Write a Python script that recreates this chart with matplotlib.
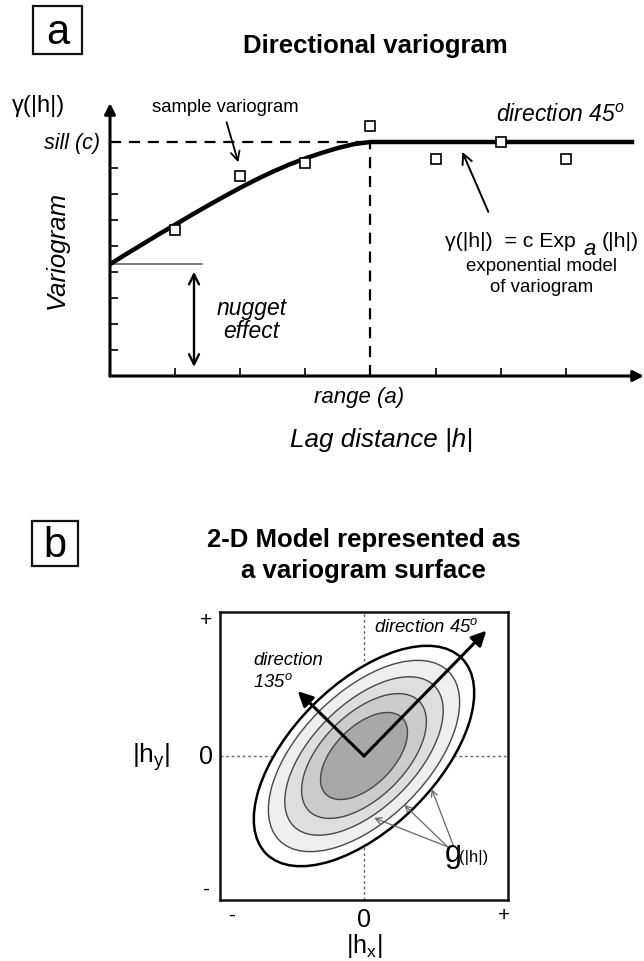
import matplotlib
matplotlib.use('Agg')
import matplotlib.pyplot as plt
from matplotlib.patches import Ellipse, Rectangle

plt.rcParams['font.family'] = ['Liberation Sans', 'DejaVu Sans']
plt.rcParams['mathtext.fontset'] = 'custom'
plt.rcParams['mathtext.rm'] = 'Liberation Sans'
plt.rcParams['mathtext.it'] = 'Liberation Sans:italic'

# panel a: directional variogram (lag and gamma in tick units)
lags = [1, 2, 3, 4, 5, 6, 7]
sample_gamma = [5.6, 7.7, 8.2, 9.6, 8.35, 9.0, 8.35]
model_h = [0, 0.25, 0.5, 0.75, 1, 1.25, 1.5, 1.75, 2, 2.25, 2.5, 2.75,
           3, 3.25, 3.5, 3.75, 4, 8.05]
model_gamma = [4.30, 4.69, 5.07, 5.45, 5.82, 6.19, 6.55, 6.90, 7.24, 7.56,
               7.86, 8.13, 8.37, 8.58, 8.77, 8.92, 9.0, 9.0]
y_ticks = [1, 2, 3, 4, 5, 6, 7, 8]
sill = 9.0
nugget = 4.3
range_a = 4.0

# panel b: variogram surface, nested ellipses at 45 degrees
semi_major = [0.96, 0.83, 0.69, 0.54, 0.375]
semi_minor = [0.50, 0.44, 0.36, 0.29, 0.205]
shades = ['white', '#efefef', '#dedede', '#cbcbcb', '#a8a8a8']
edge_cols = ['black', '#474747', '#474747', '#474747', '#474747']
edge_widths = [1.8, 1.0, 1.0, 1.0, 1.0]

W, H = 644, 962
fig = plt.figure(figsize=(W / 100, H / 100), dpi=100)


def fx(x):
    return x / W


def fy(y):
    return 1 - y / H


def label_box(letter, x0, y0, w, h):
    fig.add_artist(Rectangle((fx(x0), fy(y0 + h)), w / W, h / H,
                             transform=fig.transFigure, fill=False, lw=1.6, ec='#111111'))
    fig.text(fx(x0 + w / 2), fy(y0 + h / 2 + 2), letter, fontsize=30,
             ha='center', va='center')


# ---- panel a ----
label_box('a', 33, 7, 49, 48)
fig.text(fx(375), fy(46), 'Directional variogram', fontsize=18.5,
         fontweight='bold', ha='center', va='center')

ax1 = fig.add_axes([fx(110), fy(377), 534 / W, 275.6 / H])
ax1.set_xlim(0, 8.2)
ax1.set_ylim(0, 10.6)
for s in ax1.spines.values():
    s.set_visible(False)
ax1.set_xticks(lags)
ax1.set_yticks(y_ticks)
ax1.tick_params(direction='in', length=6, width=1.2, labelbottom=False, labelleft=False)

axis_arrow = dict(arrowstyle='-|>', lw=2.2, color='k', mutation_scale=16,
                  shrinkA=0, shrinkB=0)
ax1.annotate('', xy=(8.2, 0), xytext=(0, 0), arrowprops=axis_arrow,
             annotation_clip=False)
ax1.annotate('', xy=(0, 10.5), xytext=(0, 0), arrowprops=axis_arrow,
             annotation_clip=False)

ax1.plot([0, range_a], [sill, sill], color='k', lw=1.6, dashes=(5, 3.5))
ax1.plot([range_a, range_a], [0, sill], color='k', lw=1.6, dashes=(5, 3.5))
ax1.plot([0, 1.42], [nugget, nugget], color='#555555', lw=1.1)
ax1.plot(model_h, model_gamma, color='k', lw=3.2, solid_capstyle='butt', zorder=3)
ax1.plot(lags, sample_gamma, 's', ms=7.5, mfc='white', mec='k', mew=1.2,
         zorder=4, clip_on=False)

ax1.annotate('', xy=(1.29, 0.35), xytext=(1.29, 4.01),
             arrowprops=dict(arrowstyle='<->', lw=1.7, color='k',
                             mutation_scale=18, shrinkA=0, shrinkB=0))
ax1.annotate('', xy=(1.97, 8.22), xytext=(1.79, 9.76),
             arrowprops=dict(arrowstyle='->', lw=1.3, color='k',
                             mutation_scale=16, shrinkA=0, shrinkB=0))
ax1.annotate('', xy=(5.41, 8.62), xytext=(5.81, 6.31),
             arrowprops=dict(arrowstyle='->', lw=1.4, color='k',
                             mutation_scale=18, shrinkA=0, shrinkB=0))

fig.text(fx(39), fy(106), 'γ(|h|)', fontsize=17, ha='center', va='center')
fig.text(fx(100), fy(144), 'sill (c)', fontsize=15.5, style='italic',
         ha='right', va='center')
fig.text(fx(57), fy(250), 'Variogram', fontsize=18.5, style='italic',
         rotation=90, ha='center', va='center')
fig.text(fx(225), fy(108), 'sample variogram', fontsize=13.3,
         ha='center', va='center')
fig.text(fx(560), fy(116), 'direction 45$^o$', fontsize=16.5, style='italic',
         ha='center', va='center')
fig.text(fx(445), fy(242), 'γ(|h|)  = c Exp', fontsize=15.3,
         ha='left', va='center')
fig.text(fx(584), fy(250), 'a', fontsize=16, style='italic',
         ha='left', va='center')
fig.text(fx(602), fy(242), '(|h|)', fontsize=15.3, ha='left', va='center')
fig.text(fx(542), fy(267), 'exponential model', fontsize=13.4,
         ha='center', va='center')
fig.text(fx(542), fy(288), 'of variogram', fontsize=13.4,
         ha='center', va='center')
fig.text(fx(252), fy(308), 'nugget', fontsize=16.5, style='italic',
         ha='center', va='center')
fig.text(fx(251), fy(332), 'effect', fontsize=16.5, style='italic',
         ha='center', va='center')
fig.text(fx(359), fy(397), 'range (a)', fontsize=16, style='italic',
         ha='center', va='center')
fig.text(fx(382), fy(440), 'Lag distance |h|', fontsize=18.7, style='italic',
         ha='center', va='center')

# ---- panel b ----
label_box('b', 32, 522, 46, 45)
fig.text(fx(363.5), fy(540), '2-D Model represented as', fontsize=18.5,
         fontweight='bold', ha='center', va='center')
fig.text(fx(363.5), fy(571), 'a variogram surface', fontsize=18.5,
         fontweight='bold', ha='center', va='center')

ax2 = fig.add_axes([fx(220), fy(901), 288 / W, 288 / H])
ax2.set_xlim(-1, 1)
ax2.set_ylim(-1, 1)
ax2.set_xticks([])
ax2.set_yticks([])
for s in ax2.spines.values():
    s.set_linewidth(1.8)
    s.set_color('#111111')

ax2.axhline(0, color='#666666', lw=1, dashes=(2, 2), zorder=0.5)
ax2.axvline(0, color='#666666', lw=1, dashes=(2, 2), zorder=0.5)

for i in range(len(semi_major)):
    ax2.add_patch(Ellipse((0, 0), 2 * semi_major[i], 2 * semi_minor[i], angle=45,
                          fc=shades[i], ec=edge_cols[i], lw=edge_widths[i],
                          zorder=1 + i))

dir_arrow = dict(arrowstyle='-|>', lw=2.2, color='k', mutation_scale=22,
                 shrinkA=0, shrinkB=0)
ax2.annotate('', xy=(0.85, 0.87), xytext=(0, 0), arrowprops=dir_arrow, zorder=10)
ax2.annotate('', xy=(-0.46, 0.45), xytext=(0, 0), arrowprops=dir_arrow, zorder=10)

gray_arrow = dict(arrowstyle='->', lw=0.9, color='#666666', mutation_scale=11,
                  shrinkA=0, shrinkB=0)
ax2.annotate('', xy=(0.07, -0.43), xytext=(0.58, -0.63), arrowprops=gray_arrow, zorder=10)
ax2.annotate('', xy=(0.28, -0.34), xytext=(0.58, -0.63), arrowprops=gray_arrow, zorder=10)
ax2.annotate('', xy=(0.47, -0.23), xytext=(0.62, -0.62), arrowprops=gray_arrow, zorder=10)

ax2.text(0.07, 0.90, 'direction 45$^o$', fontsize=13.3, style='italic',
         ha='left', va='center', zorder=11)
ax2.text(-0.77, 0.67, 'direction', fontsize=13.3, style='italic',
         ha='left', va='center', zorder=11)
ax2.text(-0.77, 0.52, '135$^o$', fontsize=13.3, style='italic',
         ha='left', va='center', zorder=11)
ax2.text(0.56, -0.73, 'g', fontsize=22, ha='left', va='baseline', zorder=11)
ax2.text(0.66, -0.73, '(|h|)', fontsize=12, ha='left', va='baseline', zorder=11)

ax2.text(-1.10, 0.95, '+', fontsize=15, ha='center', va='center', clip_on=False)
ax2.text(-1.10, 0.0, '0', fontsize=18, ha='center', va='center', clip_on=False)
ax2.text(-1.10, -0.92, '-', fontsize=15, ha='center', va='center', clip_on=False)
ax2.text(-0.92, -1.10, '-', fontsize=15, ha='center', va='center', clip_on=False)
ax2.text(0.0, -1.13, '0', fontsize=18, ha='center', va='center', clip_on=False)
ax2.text(0.97, -1.10, '+', fontsize=15, ha='center', va='center', clip_on=False)
ax2.text(-1.48, 0.0, '|h$_\\mathrm{y}$|', fontsize=19, ha='center', va='center',
         clip_on=False)
ax2.text(0.0, -1.31, '|h$_\\mathrm{x}$|', fontsize=18, ha='center', va='center',
         clip_on=False)

fig.savefig('out.png', dpi=100, facecolor='white')
